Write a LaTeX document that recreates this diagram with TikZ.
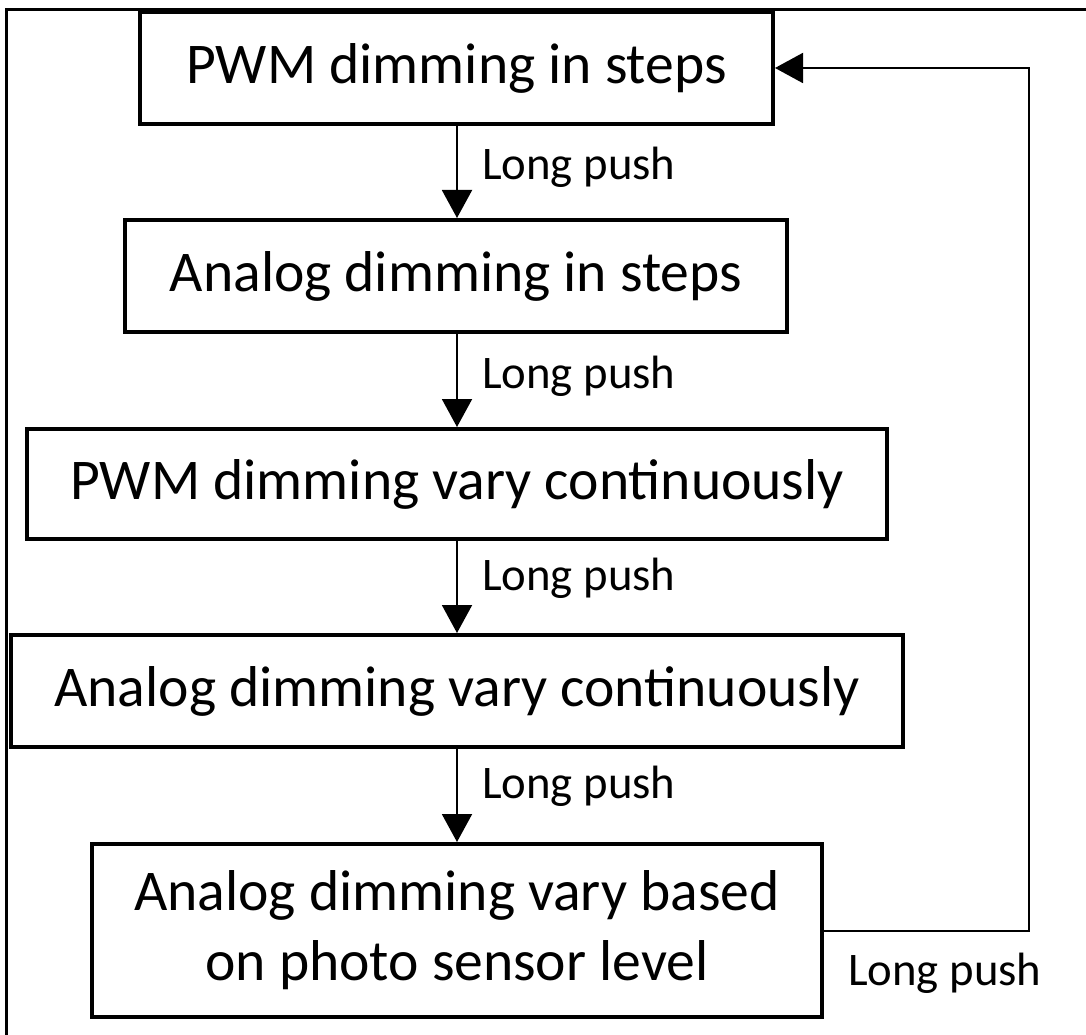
\documentclass[tikz,border=0pt]{standalone}
\usepackage{fontspec}
\setmainfont{Carlito}
\usetikzlibrary{arrows.meta}
\begin{document}
\begin{tikzpicture}[x=1pt,y=-1pt,
 stbox/.style={draw, line width=4pt, inner sep=0pt, font=\fontsize{57.6}{70}\selectfont, align=center},
 conn/.style={line width=2pt, -{Triangle[width=30pt,length=28pt]}},
 lbl/.style={anchor=base west, inner sep=0pt, font=\fontsize{46.7}{56}\selectfont},
 framel/.style={line width=3pt}]
\useasboundingbox (0,0) rectangle (1086,1035);
\draw[framel] (6,1035) -- (6,10) -- (1086,10);
\node[stbox, minimum width=633pt, minimum height=112pt] (b1) at (456.5,68) {PWM dimming in steps};
\node[stbox, minimum width=662pt, minimum height=112pt] (b2) at (456,276) {Analog dimming in steps};
\node[stbox, minimum width=860pt, minimum height=110pt] (b3) at (457,484) {PWM dimming vary continuously};
\node[stbox, minimum width=892pt, minimum height=112pt] (b4) at (457,691) {Analog dimming vary continuously};
\node[stbox, minimum width=730pt, minimum height=173pt] (b5) at (457,930.5) {Analog dimming vary based\\on photo sensor level};
\draw[conn] (b1.south -| 457,0) -- (b2.north -| 457,0);
\draw[conn] (b2.south -| 457,0) -- (b3.north -| 457,0);
\draw[conn] (b3.south -| 457,0) -- (b4.north -| 457,0);
\draw[conn] (b4.south -| 457,0) -- (b5.north -| 457,0);
\node[lbl] (l1) at (482,180) {Long push};
\node[lbl] (l2) at (482,388) {Long push};
\node[lbl] (l3) at (482,590) {Long push};
\node[lbl] (l4) at (482,798) {Long push};
\coordinate (r) at (1029,500);
\draw[conn] (b5.east) -- (b5.east -| r) -- (b1.east -| r) -- (b1.east);
\node[lbl] (l5) at (848,985) {Long push};
\end{tikzpicture}
\end{document}
